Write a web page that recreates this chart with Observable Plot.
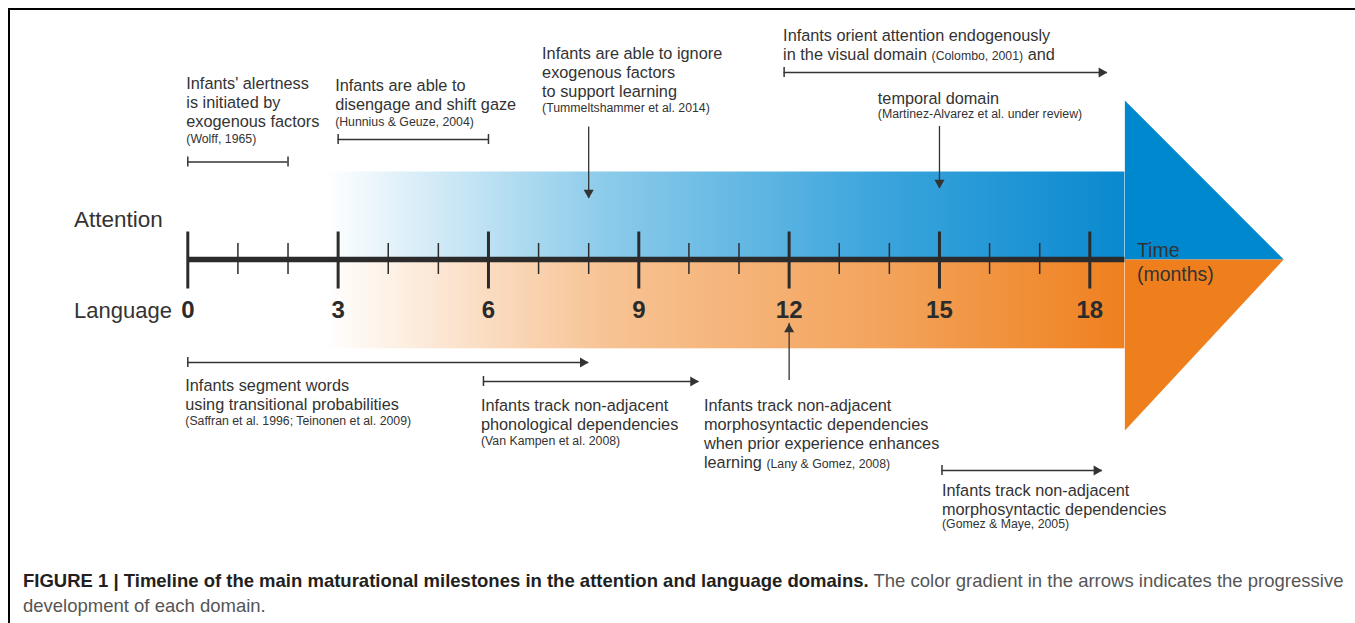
<!DOCTYPE html>
<html><head><meta charset="utf-8">
<script src="https://cdn.jsdelivr.net/npm/d3@7"></script>
<script src="https://cdn.jsdelivr.net/npm/@observablehq/plot@0.6"></script>
<style>
html,body{margin:0;padding:0;background:#fff;}
#frame{position:absolute;left:8px;top:8px;width:1347px;height:615px;border-top:2.5px solid #000;border-left:2.5px solid #000;box-sizing:border-box;}
#chart{position:absolute;left:0;top:0;}
#caption{position:absolute;left:23px;top:568px;width:1330px;line-height:25px;font-family:"Liberation Sans Narrow","Arial Narrow","Liberation Sans",Arial,sans-serif;font-size:17.5px;color:#555;}
#caption .l1{white-space:nowrap;}
#caption b{color:#231f20;}
</style></head><body>
<div id="frame"></div>
<div id="chart"></div>
<div id="caption"><div class="l1"><b>FIGURE 1 | Timeline of the main maturational milestones in the attention and language domains.</b><span> The color gradient in the arrows indicates the progressive</span></div><div>development of each domain.</div></div>
<script>
// ---------------- data ----------------
const months = d3.range(0, 19);
const majorMonths = [0, 3, 6, 9, 12, 15, 18];
const majorLabels = ["0", "3", "6", "9", "12", "15", "18"];
const domainNames = ["Attention", "Language"];
const axisTitle = "Time\n(months)";
const axisEnd = 18.7;      // end of the domain bands (months)
const arrowTip = 21.87;    // tip of the arrow heads (months)
const bandStart = 2.75;    // where the gradient begins (months)

// attention milestones (months)
const attentionRanges = [{start: 0, end: 2}, {start: 3, end: 6}];
const attentionOnward = [{start: 11.9, end: 18.35}];
const attentionPoints = [8, 15];
// language milestones (months)
const languageOnward = [{start: 0, end: 8}, {start: 5.9, end: 10.2}, {start: 15.05, end: 18.25}];
const languagePoints = [12];

const noteTexts = [
  "Infants' alertness\nis initiated by\nexogenous factors",
  "Infants are able to\ndisengage and shift gaze",
  "Infants are able to ignore\nexogenous factors\nto support learning",
  "Infants orient attention endogenously\nin the visual domain",
  "temporal domain",
  "Infants segment words\nusing transitional probabilities",
  "Infants track non-adjacent\nphonological dependencies",
  "Infants track non-adjacent\nmorphosyntactic dependencies\nwhen prior experience enhances\nlearning",
  "Infants track non-adjacent\nmorphosyntactic dependencies"
];
const noteCites = [
  "(Wolff, 1965)",
  "(Hunnius & Geuze, 2004)",
  "(Tummeltshammer et al. 2014)",
  "(Colombo, 2001)",
  "(Martinez-Alvarez et al. under review)",
  "(Saffran et al. 1996; Teinonen et al. 2009)",
  "(Van Kampen et al. 2008)",
  "(Lany & Gomez, 2008)",
  "(Gomez & Maye, 2005)"
];
const noteTail = ["", "", "", " and", "", "", "", "", ""];

// ---------------- layout ----------------
const noteX = [-0.03, 2.94, 7.07, 11.88, 13.77, -0.05, 5.85, 10.3, 15.05];
const noteBase = [88, 90, 58.3, 40.7, 103.3, 390, 410, 410, 495];
const citeBase = [142, 125, 111.5, null, 117.5, 424.5, 444.5, null, 527.5];
const attRangeY = [161.5, 139];
const attOnwardY = [72];
const attPointY = [[126.5, 198], [126, 188]];
const langOnwardY = [362, 381, 470];
const langPointY = [[380, 323]];
const axisY = 259;
const bandTop = 171.5, bandBottom = 348.3, headTop = 100, headBottom = 430;

const FONT = '"Liberation Sans", Arial, Helvetica, sans-serif';
const INK = "#333";
const fsMain = 16.3, fsCite = 12.3, lineGap = 19.1;
const blueStops = [[0, "#ffffff"], [0.35, "#8ccbea"], [0.7, "#3aa4dc"], [1, "#0a89cf"]];
const orangeStops = [[0, "#ffffff"], [0.35, "#f7c394"], [0.7, "#f3a35b"], [1, "#ef801f"]];
const blueHead = "#0088cf", orangeHead = "#ef7f1c";

// text measurement for inline citations
const ctx = document.createElement("canvas").getContext("2d");
function textW(s, size) { ctx.font = `${size}px ${FONT}`; return ctx.measureText(s).width; }

// ---------------- tables ----------------
const notes = noteTexts.map((t, i) => {
  const lines = t.split("\n");
  return {text: t, x: noteX[i], y: noteBase[i] + (lines.length - 1) * lineGap, lastLine: lines[lines.length - 1],
          lastBase: noteBase[i] + (lines.length - 1) * lineGap, cite: noteCites[i], citeY: citeBase[i], tail: noteTail[i]};
});
const blockCites = notes.filter(d => d.citeY != null);
const inlineCites = notes.filter(d => d.citeY == null);

const attR = attentionRanges.map((d, i) => ({...d, y: attRangeY[i]}));
const attO = attentionOnward.map((d, i) => ({...d, y: attOnwardY[i]}));
const attP = attentionPoints.map((m, i) => ({x: m, y1: attPointY[i][0], y2: attPointY[i][1]}));
const langO = languageOnward.map((d, i) => ({...d, y: langOnwardY[i]}));
const langP = languagePoints.map((m, i) => ({x: m, y1: langPointY[i][0], y2: langPointY[i][1]}));
const onward = [...attO, ...langO];
const caps = [...attR.flatMap(d => [{x: d.start, y: d.y}, {x: d.end, y: d.y}]), ...onward.map(d => ({x: d.start, y: d.y}))];

const blueHeadPts = [{x: axisEnd, y: headTop}, {x: arrowTip, y: axisY}, {x: axisEnd, y: axisY}];
const orangeHeadPts = [{x: axisEnd, y: axisY}, {x: arrowTip, y: axisY}, {x: axisEnd, y: headBottom}];
const minor = months.filter(m => !majorMonths.includes(m));
const majors = majorMonths.map((m, i) => ({x: m, label: majorLabels[i]}));
const domains = [{name: domainNames[0], y: 226, size: 22.5}, {name: domainNames[1], y: 317.7, size: 22}];

const triR = 4.8;
const triS = Math.sqrt(triR * triR * Math.PI) * 0.6824;

const marks = [
  Plot.rect([{x1: bandStart, x2: axisEnd, y1: bandTop, y2: axisY}], {x1: "x1", x2: "x2", y1: "y1", y2: "y2", fill: "url(#gBlue)"}),
  Plot.rect([{x1: bandStart, x2: axisEnd, y1: axisY, y2: bandBottom}], {x1: "x1", x2: "x2", y1: "y1", y2: "y2", fill: "url(#gOrange)"}),
  Plot.line(blueHeadPts, {x: "x", y: "y", fill: blueHead, stroke: null}),
  Plot.line(orangeHeadPts, {x: "x", y: "y", fill: orangeHead, stroke: null}),
  Plot.ruleY([axisY], {x1: 0, x2: axisEnd, y: d => d, stroke: "#2b2b2b", strokeWidth: 5.5}),
  Plot.ruleX(majorMonths, {x: d => d, y1: 231.5, y2: 288.5, stroke: "#2b2b2b", strokeWidth: 3}),
  Plot.ruleX(minor, {x: d => d, y1: 243, y2: 274, stroke: "#2b2b2b", strokeWidth: 1.5}),
  Plot.text(majors, {x: "x", y: 317.7, text: "label", fontSize: 24, fontWeight: "bold", fill: "#2b2b2b", textAnchor: "middle", lineAnchor: "bottom"}),
  Plot.text(domains, {x: -2.27, y: "y", text: "name", fontSize: d => d.size, fill: INK, textAnchor: "start", lineAnchor: "bottom"}),
  Plot.text([axisTitle], {x: 18.94, y: 280, text: d => d, fontSize: 19.5, lineHeight: 1.23, fill: INK, textAnchor: "start", lineAnchor: "bottom"}),
  // ranges with end caps
  Plot.ruleY(attR, {x1: "start", x2: "end", y: "y", stroke: INK, strokeWidth: 1.3}),
  Plot.ruleY(onward, {x1: "start", x2: "end", y: "y", stroke: INK, strokeWidth: 1.3}),
  Plot.ruleX(caps, {x: "x", y1: d => d.y - 5, y2: d => d.y + 5, stroke: INK, strokeWidth: 1.5}),
  Plot.dot(onward, {x: "end", y: "y", symbol: "triangle2", r: triR, rotate: 90, dx: -triS, fill: INK, stroke: "none"}),
  // point arrows
  Plot.ruleX(attP, {x: "x", y1: "y1", y2: "y2", stroke: INK, strokeWidth: 1.3}),
  Plot.dot(attP, {x: "x", y: "y2", symbol: "triangle2", r: triR, rotate: 180, dy: -triS, fill: INK, stroke: "none"}),
  Plot.ruleX(langP, {x: "x", y1: "y1", y2: "y2", stroke: INK, strokeWidth: 1.3}),
  Plot.dot(langP, {x: "x", y: "y2", symbol: "triangle2", r: triR, rotate: 0, dy: triS, fill: INK, stroke: "none"}),
  // texts
  Plot.text(notes, {x: "x", y: "y", text: "text", fontSize: fsMain, lineHeight: lineGap / fsMain, fill: INK, textAnchor: "start", lineAnchor: "bottom"}),
  Plot.text(blockCites, {x: "x", y: "citeY", text: "cite", fontSize: fsCite, fill: INK, textAnchor: "start", lineAnchor: "bottom"})
];
for (const d of inlineCites) {
  const off = textW(d.lastLine + " ", fsMain);
  marks.push(Plot.text([d], {x: "x", y: "lastBase", text: "cite", dx: off, fontSize: fsCite, fill: INK, textAnchor: "start", lineAnchor: "bottom"}));
  if (d.tail) {
    const off2 = off + textW(d.cite, fsCite);
    marks.push(Plot.text([d], {x: "x", y: "lastBase", text: "tail", dx: off2, fontSize: fsMain, fill: INK, textAnchor: "start", lineAnchor: "bottom"}));
  }
}

const svg = Plot.plot({
  width: 1355, height: 560, margin: 0,
  x: {domain: [0, 18], range: [187.3, 1089.3], axis: null},
  y: {domain: [0, 560], range: [0, 560], axis: null},
  style: {fontFamily: FONT, background: "transparent", color: INK, overflow: "visible"},
  marks
});
const defs = d3.select(svg).insert("defs", ":first-child");
for (const [id, stops] of [["gBlue", blueStops], ["gOrange", orangeStops]]) {
  const g = defs.append("linearGradient").attr("id", id).attr("x1", 0).attr("x2", 1).attr("y1", 0).attr("y2", 0);
  g.selectAll("stop").data(stops).join("stop").attr("offset", d => d[0]).attr("stop-color", d => d[1]);
}
document.getElementById("chart").appendChild(svg);

// caption sizing: the bold sentence spans from the caption's left edge to x≈869
const cap = document.getElementById("caption");
const b = cap.querySelector("b");
const w0 = b.getBoundingClientRect().width;
cap.style.fontSize = (17.5 * (869 - 23) / w0) + "px";
</script>
</body></html>
